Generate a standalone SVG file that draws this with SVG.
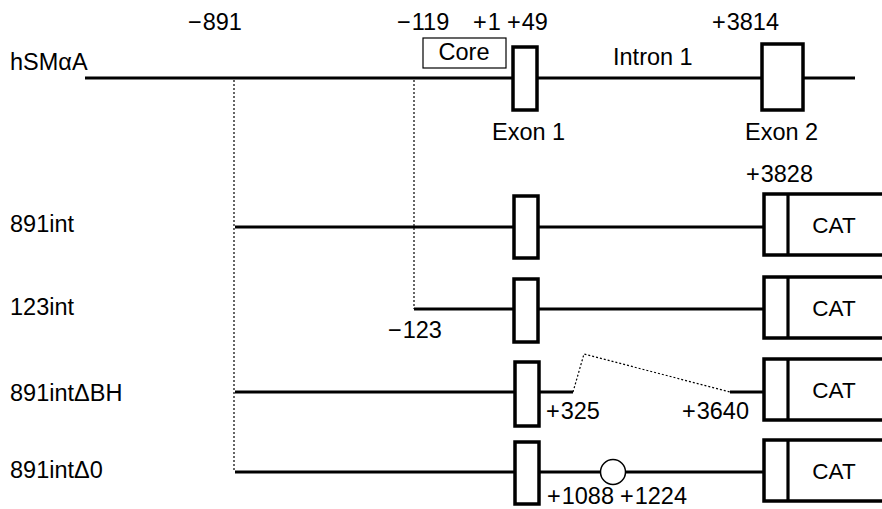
<svg xmlns="http://www.w3.org/2000/svg" width="882" height="509" viewBox="0 0 882 509">
<style>
text{font-family:"Liberation Sans",Arial,sans-serif;font-size:23.5px;fill:#000}
.cat{font-size:22.5px;text-anchor:middle}
.ln{stroke:#000;stroke-width:3.2;fill:none}
.box{stroke:#000;stroke-width:3.5;fill:#fff}
.thin{stroke:#000;stroke-width:1.2;fill:#fff}
.dot{stroke:#000;stroke-width:1.2;stroke-dasharray:2 2;fill:none}
</style>
<rect width="882" height="509" fill="#fff"/>
<g id="connectors">
<line class="dot" x1="234" y1="80" x2="234" y2="472"/>
<line class="dot" x1="414" y1="80" x2="414" y2="309"/>
<polyline class="dot" points="573,392 584,354 730,392"/>
</g>
<g id="hSMaA">
<line class="ln" x1="85" y1="78" x2="855" y2="78" stroke-width="3.8"/>
<rect class="thin" x="423" y="38" width="83" height="30"/>
<text x="464" y="60" text-anchor="middle">Core</text>
<rect class="box" x="513" y="47" width="24" height="63"/>
<rect class="box" x="762" y="44" width="41" height="66"/>
<text x="10" y="70">hSMαA</text>
<text x="188" y="30">−<tspan dx="1">891</tspan></text>
<text x="397" y="30">−<tspan dx="1">119</tspan></text>
<text x="473" y="30">+<tspan dx="1">1</tspan></text>
<text x="507" y="30">+<tspan dx="1">49</tspan></text>
<text x="712" y="30">+<tspan dx="1">3814</tspan></text>
<text x="613" y="65">Intron 1</text>
<text x="492" y="140">Exon 1</text>
<text x="745" y="140">Exon 2</text>
</g>
<g id="row891int">
<text x="10" y="232">891int</text>
<line class="ln" x1="235" y1="227" x2="763" y2="227"/>
<rect class="box" x="514" y="196" width="24" height="62"/>
<rect class="box" x="764" y="194" width="140" height="61"/>
<line class="ln" x1="788" y1="194" x2="788" y2="255"/>
<text class="cat" x="834" y="233">CAT</text>
<text x="746" y="182">+<tspan dx="1">3828</tspan></text>
</g>
<g id="row123int">
<text x="10" y="315">123int</text>
<line class="ln" x1="414" y1="309" x2="763" y2="309"/>
<rect class="box" x="514" y="279" width="24" height="63"/>
<rect class="box" x="764" y="277" width="140" height="61"/>
<line class="ln" x1="788" y1="277" x2="788" y2="338"/>
<text class="cat" x="834" y="316">CAT</text>
<text x="388" y="338">−<tspan dx="1">123</tspan></text>
</g>
<g id="row891intdBH">
<text x="10" y="401">891intΔBH</text>
<line class="ln" x1="235" y1="392" x2="573" y2="392"/>
<line class="ln" x1="730" y1="392" x2="763" y2="392"/>
<rect class="box" x="515" y="362" width="24" height="64"/>
<rect class="box" x="764" y="359" width="140" height="61"/>
<line class="ln" x1="788" y1="359" x2="788" y2="420"/>
<text class="cat" x="834" y="398">CAT</text>
<text x="546" y="419">+<tspan dx="1">325</tspan></text>
<text x="682" y="419">+<tspan dx="1">3640</tspan></text>
</g>
<g id="row891intd0">
<text x="10" y="478">891intΔ0</text>
<line class="ln" x1="235" y1="472" x2="763" y2="472"/>
<rect class="box" x="515" y="442" width="24" height="62"/>
<circle cx="613" cy="472" r="12.5" fill="#fff" stroke="#000" stroke-width="1.5"/>
<rect class="box" x="764" y="440" width="140" height="61"/>
<line class="ln" x1="788" y1="440" x2="788" y2="501"/>
<text class="cat" x="834" y="479">CAT</text>
<text x="547" y="504">+<tspan dx="1">1088</tspan></text>
<text x="620" y="504">+<tspan dx="1">1224</tspan></text>
</g>
</svg>
